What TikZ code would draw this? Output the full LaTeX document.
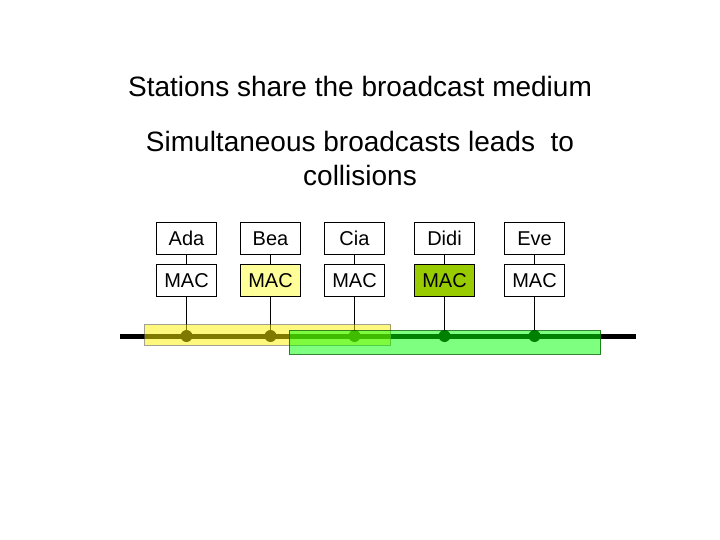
\documentclass[tikz,border=0pt]{standalone}
\usepackage{fontspec}
\setmainfont{Liberation Sans}
\usepackage{xcolor}
\usepackage{tikz}
\usetikzlibrary{positioning}
\definecolor{macyellow}{HTML}{FFFF99}
\definecolor{macgreen}{HTML}{99CC00}
\tikzset{
  stabox/.style={draw,thin,fill=white,minimum width=60pt,minimum height=32pt,inner sep=0pt,text height=15pt,text depth=1pt,font=\fontsize{20}{24}\selectfont},
  tap/.style={circle,fill=black,minimum size=12pt,inner sep=0pt}
}

\begin{document}
\begin{tikzpicture}[x=1pt,y=-1pt,node distance=10pt]
\useasboundingbox(0,0)rectangle(720,540);
\node[anchor=base,font=\fontsize{28}{34}\selectfont](title)at(360,97){Stations share the broadcast medium};
\node[anchor=base,font=\fontsize{28}{34}\selectfont](simul)at(360,151.5){Simultaneous broadcasts leads\ \ to};
\node[anchor=base,font=\fontsize{28}{34}\selectfont](coll)at(360,185.5){collisions};
% stations
\node[stabox](ada)at(186.5,238){Ada};
\node[stabox](bea)at(270.5,238){Bea};
\node[stabox](cia)at(354.5,238){Cia};
\node[stabox](didi)at(444.5,238){Didi};
\node[stabox](eve)at(534.5,238){Eve};
\node[stabox,below=of ada](adamac){MAC};
\node[stabox,below=of bea,fill=macyellow](beamac){MAC};
\node[stabox,below=of cia](ciamac){MAC};
\node[stabox,below=of didi,fill=macgreen](didimac){MAC};
\node[stabox,below=of eve](evemac){MAC};
% the medium
\coordinate(wl)at(120,336);
\coordinate(wr)at(636,336);
\draw[line width=5pt](wl)--(wr);
\node[tap](adatap)at(adamac|-wl){};
\node[tap](beatap)at(beamac|-wl){};
\node[tap](ciatap)at(ciamac|-wl){};
\node[tap](diditap)at(didimac|-wl){};
\node[tap](evetap)at(evemac|-wl){};
\draw[thin](ada)--(adamac)(adamac)--(adatap.center)
(bea)--(beamac)(beamac)--(beatap.center)
(cia)--(ciamac)(ciamac)--(ciatap.center)
(didi)--(didimac)(didimac)--(diditap.center)
(eve)--(evemac)(evemac)--(evetap.center);
% the two broadcasts
\path[fill=yellow,fill opacity=0.5,draw=black!70!yellow,draw opacity=0.6](144.5,324.5)rectangle(390.5,345);
\path[fill=green,fill opacity=0.5,draw=black!60!green,draw opacity=0.8](289,330.5)rectangle(600.5,354);
\end{tikzpicture}
\end{document}
